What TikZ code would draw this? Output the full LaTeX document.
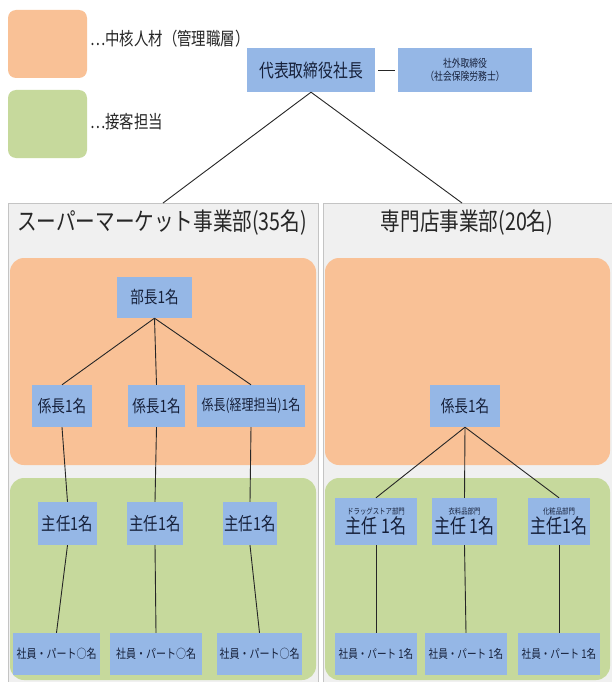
\documentclass[tikz,border=0pt]{standalone}
\usepackage{fontspec}
\setmainfont[FakeStretch=0.8]{Noto Sans CJK JP}
\definecolor{orgfill}{HTML}{F9C196}
\definecolor{grnfill}{HTML}{C6D99C}
\definecolor{bluefill}{HTML}{95B7E6}
\definecolor{panelfill}{HTML}{F0F0F0}
\definecolor{panelline}{HTML}{C4C4C4}
\definecolor{txt}{HTML}{16203A}
\tikzset{
  bx/.style={fill=bluefill, draw=none, inner sep=0pt, text=txt, align=center},
  panel/.style={fill=panelfill, draw=panelline, line width=0.8pt},
  orgpanel/.style={fill=orgfill, draw=none, rounded corners=14pt},
  grnpanel/.style={fill=grnfill, draw=none, rounded corners=14pt},
  conn/.style={draw=black!85, line width=0.9pt},
  lbl/.style={text=black!85, inner sep=0pt}
}
\newcommand{\fs}[1]{\fontsize{#1}{#1}\selectfont}
\begin{document}
\begin{tikzpicture}[x=1pt,y=-1pt]
\useasboundingbox (0,0) rectangle (612,682);
\fill[white] (0,0) rectangle (612,682);
% legend
\fill[orgpanel, rounded corners=8pt] (8,10) rectangle (87,78);
\fill[grnpanel, rounded corners=8pt] (8,90) rectangle (87,158);
\node[lbl, anchor=west] (lg1) at (90,39) {\fs{18}…中核人材（管理職層）};
\node[lbl, anchor=west] (lg2) at (90,122) {\fs{18}…接客担当};
% panels
\draw[panel] (8,203) rectangle (318,682);
\draw[panel] (323,203) rectangle (612,682);
\fill[orgpanel] (10,258) rectangle (316,465);
\fill[orgpanel] (325,258) rectangle (610,465);
\fill[grnpanel] (10,478) rectangle (316,680);
\fill[grnpanel] (325,478) rectangle (610,680);
\coordinate (lt) at (163,203);
\coordinate (rt) at (462,203);
\node[lbl, anchor=west] (ltitle) at (17,223) {\fs{24.5}スーパーマーケット事業部(35名)};
\node[lbl] (rtitle) at (467,223) {\fs{24.5}専門店事業部(20名)};
% top
\node[bx, minimum width=128pt, minimum height=44pt] (ceo) at (311,70) {\fs{18.5}代表取締役社長};
\node[bx, minimum width=134pt, minimum height=44pt] (ext) at (465,70) {\fs{11}社外取締役\\[1pt]\fs{11}（社会保険労務士）};
\draw[conn, shorten <=3pt, shorten >=3pt] (ceo) -- (ext);
\draw[conn] (ceo.south) -- (lt);
\draw[conn] (ceo.south) -- (rt);
% left department
\node[bx, minimum width=75pt, minimum height=41pt] (bucho) at (154.5,297.5) {\fs{17}部長1名};
\node[bx, minimum width=60pt, minimum height=42pt] (k1) at (62,406) {\fs{17}係長1名};
\node[bx, minimum width=57pt, minimum height=42pt] (k2) at (156.5,406) {\fs{17}係長1名};
\node[bx, minimum width=108pt, minimum height=42pt] (k3) at (251,406) {\fs{15}係長(経理担当)1名};
\node[bx, minimum width=59pt, minimum height=43pt] (s1) at (67.5,523.5) {\fs{18}主任1名};
\node[bx, minimum width=56pt, minimum height=43pt] (s2) at (155,523.5) {\fs{18}主任1名};
\node[bx, minimum width=54pt, minimum height=43pt] (s3) at (250,523.5) {\fs{18}主任1名};
\node[bx, minimum width=87pt, minimum height=42pt] (p1) at (56.5,654) {\fs{12.5}社員・パート○名};
\node[bx, minimum width=92pt, minimum height=42pt] (p2) at (156,654) {\fs{12.5}社員・パート○名};
\node[bx, minimum width=85pt, minimum height=42pt] (p3) at (259.5,654) {\fs{12.5}社員・パート○名};
\draw[conn] (bucho.south) -- (k1.north);
\draw[conn] (bucho.south) -- (k2.north);
\draw[conn] (bucho.south) -- (k3.north);
\draw[conn] (k1.south) -- (s1.north);
\draw[conn] (k2.south) -- (s2.north);
\draw[conn] (k3.south) -- (s3.north);
\draw[conn] (s1.south) -- (p1.north);
\draw[conn] (s2.south) -- (p2.north);
\draw[conn] (s3.south) -- (p3.north);
% right department
\node[bx, minimum width=70pt, minimum height=42pt] (rk) at (465,406) {\fs{17}係長1名};
\node[bx, minimum width=82pt, minimum height=47pt] (rs1) at (376,521.5) {\fs{8}ドラッグストア部門\\[1pt]\fs{20}主任 1名};
\node[bx, minimum width=65pt, minimum height=47pt] (rs2) at (464.5,521.5) {\fs{8}衣料品部門\\[1pt]\fs{20}主任 1名};
\node[bx, minimum width=62pt, minimum height=47pt] (rs3) at (559,521.5) {\fs{8}化粧品部門\\[1pt]\fs{20}主任1名};
\node[bx, minimum width=82pt, minimum height=42pt] (rp1) at (376,654) {\fs{12}社員・パート 1名};
\node[bx, minimum width=82pt, minimum height=42pt] (rp2) at (466,654) {\fs{12}社員・パート 1名};
\node[bx, minimum width=82pt, minimum height=42pt] (rp3) at (559,654) {\fs{12}社員・パート 1名};
\draw[conn] (rk.south) -- (rs1.north);
\draw[conn] (rk.south) -- (rs2.north);
\draw[conn] (rk.south) -- (rs3.north);
\draw[conn] (rs1.south) -- (rp1.north);
\draw[conn] (rs2.south) -- (rp2.north);
\draw[conn] (rs3.south) -- (rp3.north);
\end{tikzpicture}
\end{document}
